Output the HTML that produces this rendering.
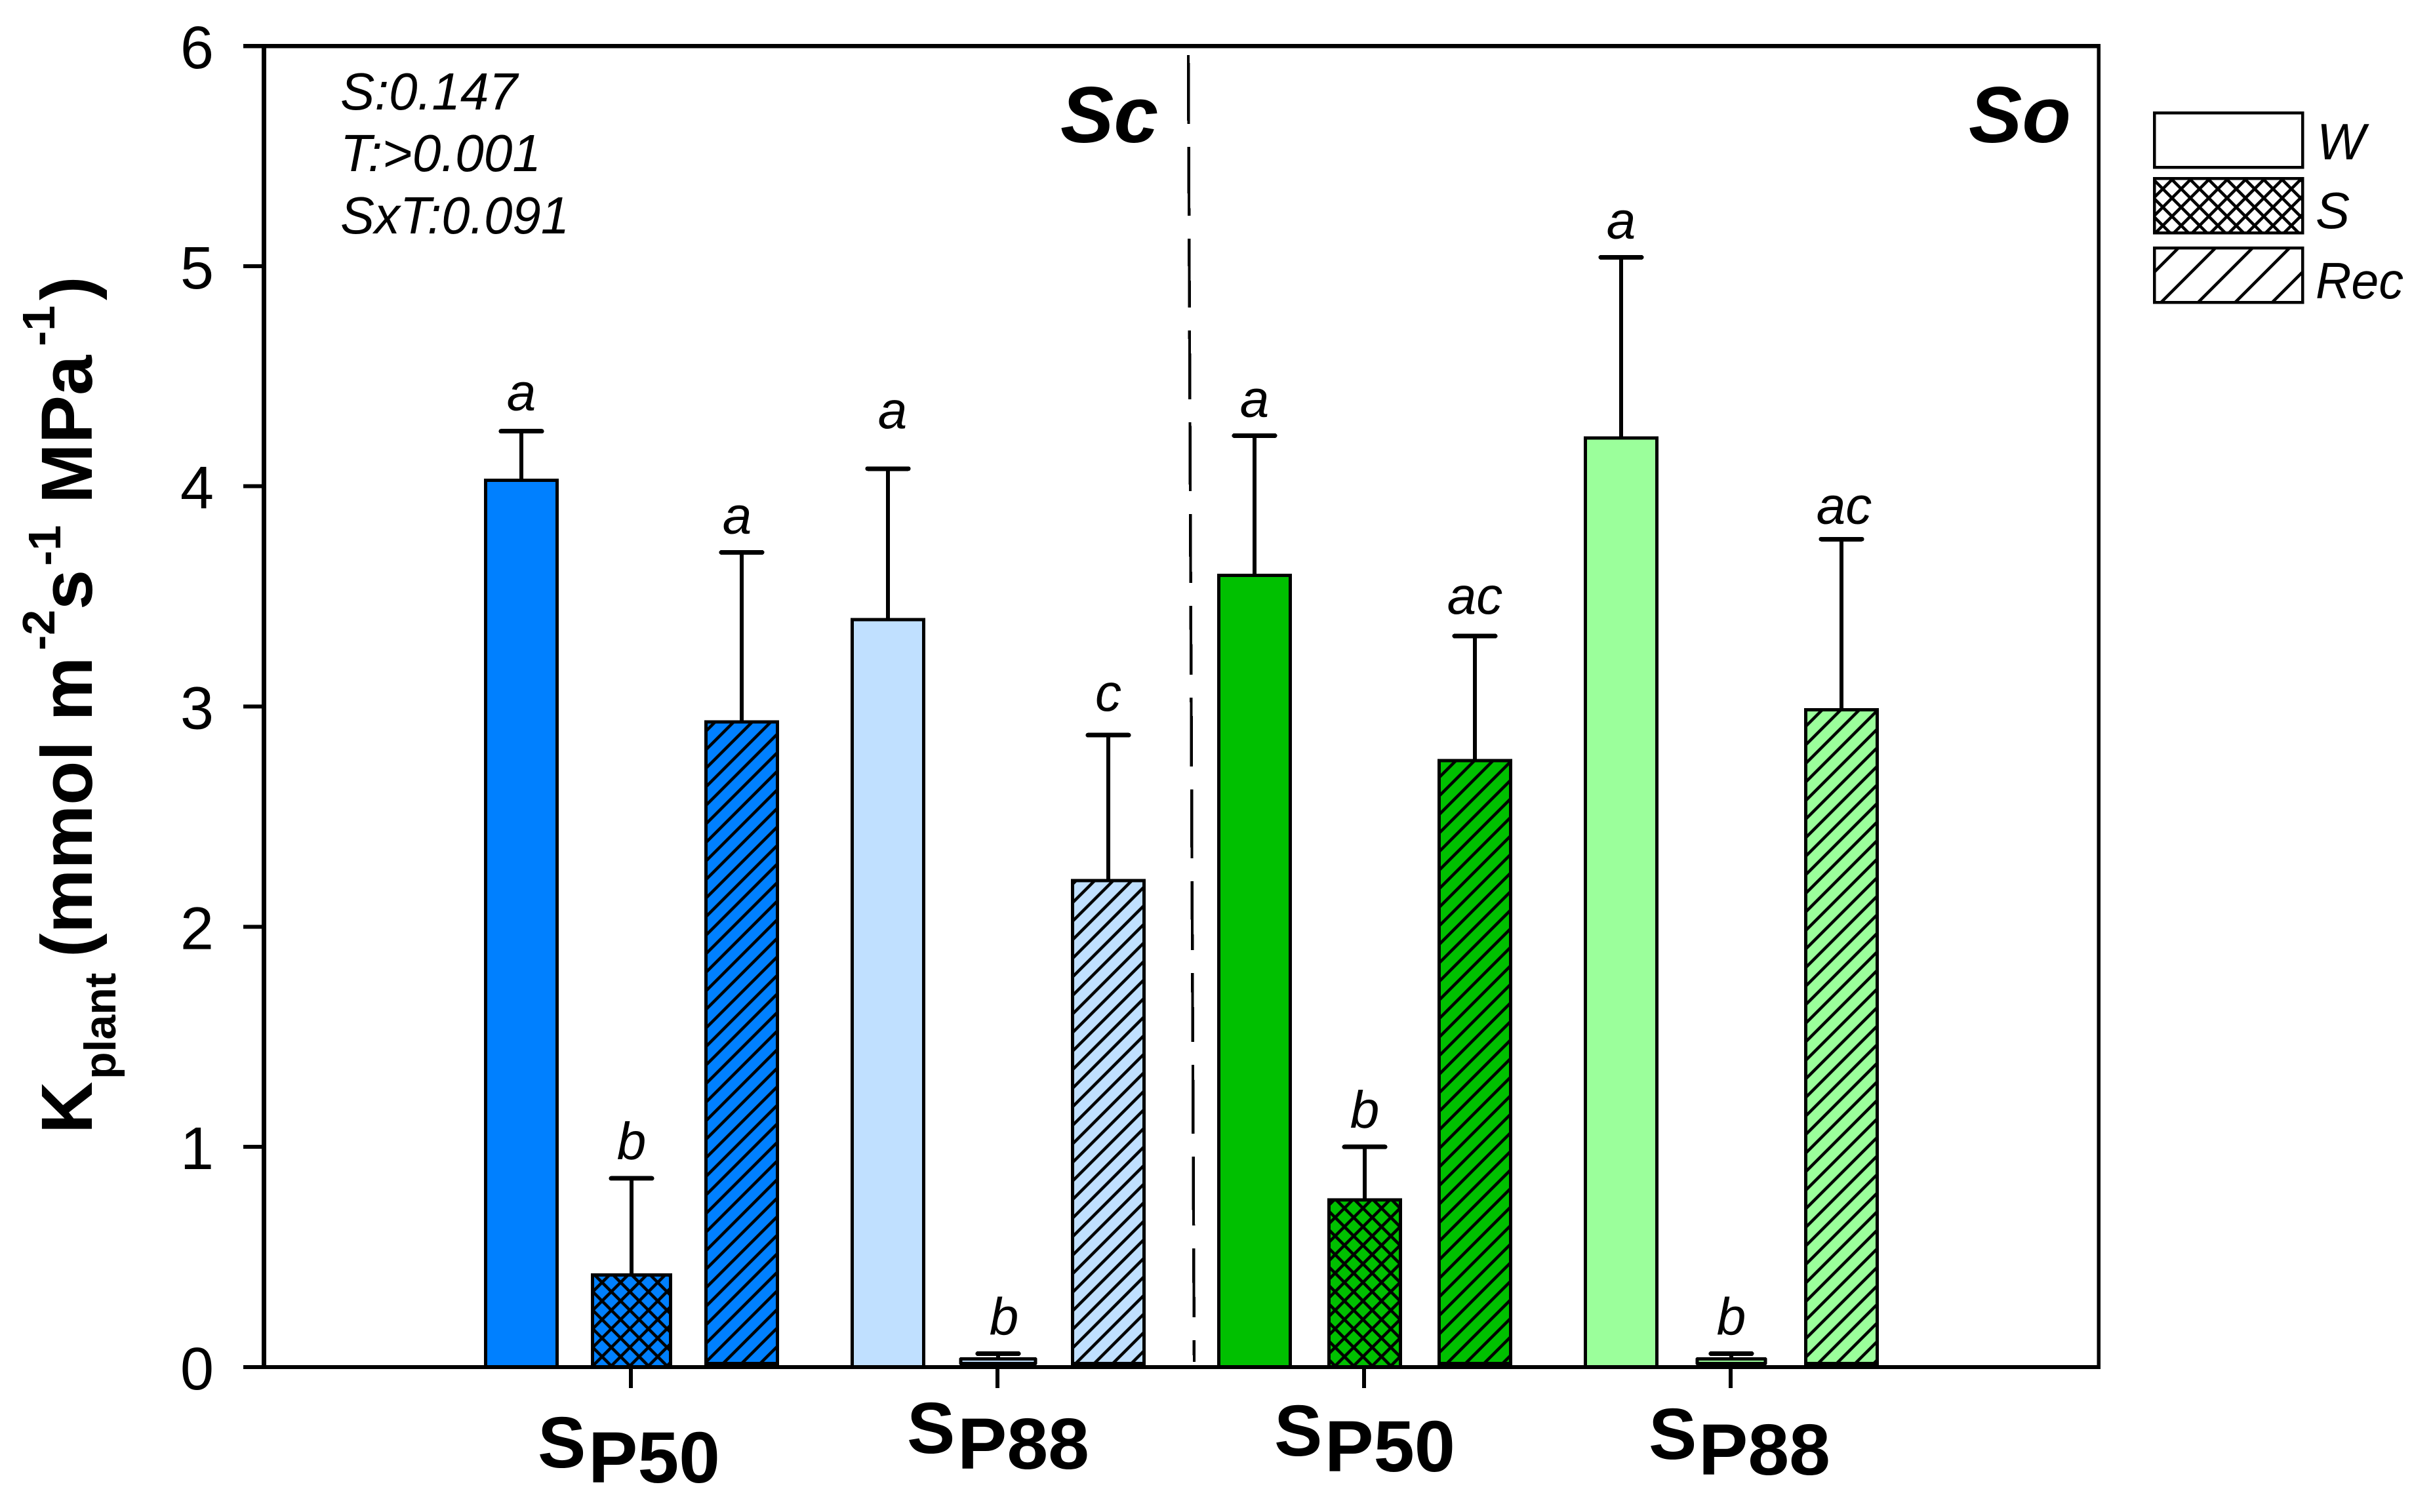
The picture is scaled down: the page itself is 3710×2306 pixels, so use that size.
<!DOCTYPE html>
<html lang="en">
<head>
<meta charset="utf-8">
<title>Kplant bar chart</title>
<style>
html,body{margin:0;padding:0;background:#fff;}
svg{display:block;}
text{font-family:"Liberation Sans",Arial,sans-serif;fill:#000;}
.it{font-style:italic;}
.bd{font-weight:bold;}
.bi{font-weight:bold;font-style:italic;}
</style>
</head>
<body>
<svg id="chart" xmlns="http://www.w3.org/2000/svg" width="3710" height="2306" viewBox="0 0 3710 2306">
  <defs>
    <pattern id="cross" patternUnits="userSpaceOnUse" width="28.3" height="28.3" x="932.2" y="1970">
      <path d="M-2 2L2 -2M0 28.3L28.3 0M26.3 30.3L30.3 26.3M-2 26.3L2 30.3M0 0L28.3 28.3M26.3 -2L30.3 2" stroke="#000" stroke-width="4.6" fill="none"/>
    </pattern>
    <pattern id="diag" patternUnits="userSpaceOnUse" width="28.3" height="28.3" x="12.5" y="0">
      <path d="M-2 2L2 -2M0 28.3L28.3 0M26.3 30.3L30.3 26.3" stroke="#000" stroke-width="4.6" fill="none"/>
    </pattern>
    <pattern id="legend-cross" patternUnits="userSpaceOnUse" width="28" height="28" x="3284" y="274">
      <path d="M-2 2L2 -2M0 28L28 0M26 30L30 26M-2 26L2 30M0 0L28 28M26 -2L30 2" stroke="#000" stroke-width="4.6" fill="none"/>
    </pattern>
    <pattern id="legend-diag" patternUnits="userSpaceOnUse" width="56.5" height="56.5" x="3300" y="400">
      <path d="M-2 2L2 -2M0 56.5L56.5 0M54.5 58.5L58.5 54.5" stroke="#000" stroke-width="4.6" fill="none"/>
    </pattern>
  </defs>

  <g id="marks" shape-rendering="crispEdges"></g>
  <g id="axes" shape-rendering="crispEdges"></g>

  <line x1="1812" y1="84" x2="1821" y2="2077" stroke="#000" stroke-width="4.4" stroke-dasharray="105 35" shape-rendering="crispEdges"/>

  <text class="it" x="519" y="167" font-size="80" textLength="270" lengthAdjust="spacingAndGlyphs">S:0.147</text>
  <text class="it" x="519" y="261" font-size="80" textLength="306" lengthAdjust="spacingAndGlyphs">T:&gt;0.001</text>
  <text class="it" x="519" y="356" font-size="80" textLength="349" lengthAdjust="spacingAndGlyphs">SxT:0.091</text>

  <text class="bi" x="1617" y="217" font-size="122">Sc</text>
  <text class="bi" x="3002" y="217" font-size="122">So</text>

  <g>
    <rect x="3285" y="172" width="226" height="83" fill="#fff" stroke="#000" stroke-width="4.5" shape-rendering="crispEdges"/>
    <rect x="3285" y="272" width="226" height="83" fill="url(#legend-cross)" stroke="#000" stroke-width="4.5" shape-rendering="crispEdges"/>
    <rect x="3285" y="378" width="226" height="83" fill="url(#legend-diag)" stroke="#000" stroke-width="4.5" shape-rendering="crispEdges"/>
    <text class="it" x="3533" y="243" font-size="78">W</text>
    <text class="it" x="3531" y="348" font-size="78">S</text>
    <text class="it" x="3531" y="455" font-size="78" textLength="134" lengthAdjust="spacingAndGlyphs">Rec</text>
  </g>

  <g>
    <text class="bd" x="820" y="2238" font-size="110">S</text>
    <text class="bd" x="897" y="2261" font-size="110" textLength="201" lengthAdjust="spacingAndGlyphs">P50</text>
    <text class="bd" x="1383" y="2216" font-size="110">S</text>
    <text class="bd" x="1460" y="2240" font-size="110" textLength="201" lengthAdjust="spacingAndGlyphs">P88</text>
    <text class="bd" x="1943" y="2220" font-size="110">S</text>
    <text class="bd" x="2020" y="2244" font-size="110" textLength="199" lengthAdjust="spacingAndGlyphs">P50</text>
    <text class="bd" x="2514" y="2225" font-size="110">S</text>
    <text class="bd" x="2590" y="2249" font-size="110" textLength="201" lengthAdjust="spacingAndGlyphs">P88</text>
  </g>

  <g>
    <text class="bd" font-size="110" transform="translate(140,1729) rotate(-90)">K</text>
    <text class="bd" font-size="68" transform="translate(176,1646) rotate(-90)">plant</text>
    <text class="bd" font-size="110" transform="translate(140,1460) rotate(-90)">(mmol m</text>
    <text class="bd" font-size="70" transform="translate(83,992) rotate(-90)">-2</text>
    <text class="bd" font-size="110" transform="translate(140,930) rotate(-90)">s</text>
    <text class="bd" font-size="70" transform="translate(92,863) rotate(-90)">-1</text>
    <text class="bd" font-size="110" transform="translate(140,768) rotate(-90)">MPa</text>
    <text class="bd" font-size="70" transform="translate(83,528) rotate(-90)">-1</text>
    <text class="bd" font-size="110" transform="translate(140,458) rotate(-90)">)</text>
  </g>

<script>
// ---- chart data ----
const yTicks = [0, 1, 2, 3, 4, 5, 6];
const groupNames = ['Sc-P50', 'Sc-P88', 'So-P50', 'So-P88'];
const treatments = ['W', 'S', 'Rec'];
const means = [
  [4.027, 0.418, 2.93],
  [3.395, 0.037, 2.21],
  [3.595, 0.759, 2.755],
  [4.22, 0.037, 2.985]
];
const errorTops = [
  [4.25, 0.857, 3.70],
  [4.08, 0.061, 2.87],
  [4.23, 1.00, 3.32],
  [5.04, 0.061, 3.76]
];
const letters = [
  ['a', 'b', 'a'],
  ['a', 'b', 'c'],
  ['a', 'b', 'ac'],
  ['a', 'b', 'ac']
];
const groupColors = ['#0080FF', '#C0E0FF', '#00C000', '#9BFF9B'];

// ---- axis functions ----
const plot = {left: 402.5, right: 3200, top: 70, bottom: 2085};
const yMax = 6;
function yScale(v) {
  return plot.bottom - (v / yMax) * (plot.bottom - plot.top);
}
function xScale(g, t) {
  return 795 + g * 559 + t * 168;
}
function barWidth(g, t) {
  if (t !== 1) return 109;
  return 119 - g * 5;
}
function letterLift(g, t) {
  if (g === 1 && t === 0) return 62;
  if (g === 1 && t === 2) return 37;
  if (g === 2 && t === 2) return 34;
  if (g === 3 && t === 2) return 24;
  if (g === 0 && t === 0) return 32;
  return 29;
}
function letterShift(g, t) {
  if (g === 0 && t === 2) return -7;
  if (g === 1 && t === 0) return 7;
  if (g === 1 && t === 1) return 9;
  if (g === 3 && t === 2) return 4;
  return 0;
}
const capHalf = 31;
const innerFloor = 2079.5;

const NS = 'http://www.w3.org/2000/svg';
const marks = document.getElementById('marks');
const axes = document.getElementById('axes');
function mk(tag, parent, attrs) {
  const el = document.createElementNS(NS, tag);
  for (const k in attrs) el.setAttribute(k, attrs[k]);
  parent.appendChild(el);
  return el;
}

groupNames.forEach(function (gName, g) {
  treatments.forEach(function (tName, t) {
    const cx = xScale(g, t);
    const top = yScale(means[g][t]);
    const errY = yScale(errorTops[g][t]);
    const slug = gName.toLowerCase() + '-' + tName.toLowerCase();
    const w = barWidth(g, t);
    const tiny = innerFloor - top < 12;
    const floor = (t === 2 || tiny) ? innerFloor : plot.bottom;

    const stem = mk('line', marks, {x1: cx, x2: cx, y1: top, y2: errY, stroke: '#000', 'stroke-width': 6.3});
    
    

    const cap = mk('line', marks, {x1: cx - capHalf, x2: cx + capHalf, y1: errY, y2: errY, stroke: '#000', 'stroke-width': 7, 'stroke-linecap': 'round'});
    
    

    const geom = {x: cx - w / 2, y: top, width: w, height: floor - top};
    const fill = mk('rect', marks, Object.assign({fill: groupColors[g]}, geom));
    
    

    if (t > 0 && !tiny) {
      const hatch = mk('rect', marks, Object.assign({fill: t === 1 ? 'url(#cross)' : 'url(#diag)'}, geom));
      
      
    }

    const outline = mk('rect', marks, Object.assign({fill: 'none', stroke: '#000', 'stroke-width': 5, 'stroke-linejoin': tiny ? 'round' : 'miter'}, geom));
    
    

    const label = mk('text', marks, {x: cx + letterShift(g, t), y: errY - letterLift(g, t), 'font-size': 80, 'text-anchor': 'middle', class: 'it'});
    label.textContent = letters[g][t];
    
    
  });
});

// frame
const frameTop = mk('line', axes, {x1: 371, x2: plot.right + 3, y1: plot.top, y2: plot.top, stroke: '#000', 'stroke-width': 6.5});



const frameRight = mk('line', axes, {x1: plot.right, x2: plot.right, y1: plot.top, y2: plot.bottom, stroke: '#000', 'stroke-width': 5.5});



const axisY = mk('line', axes, {x1: plot.left, x2: plot.left, y1: plot.top, y2: plot.bottom, stroke: '#000', 'stroke-width': 6.7});



const axisX = mk('line', axes, {x1: 371, x2: plot.right + 3, y1: plot.bottom, y2: plot.bottom, stroke: '#000', 'stroke-width': 6});



yTicks.forEach(function (v) {
  const y = yScale(v);
  const tick = mk('line', axes, {x1: 371, x2: plot.left, y1: y, y2: y, stroke: '#000', 'stroke-width': 6});
  
  

  const lab = mk('text', axes, {x: 326, y: y + 34, 'font-size': 92, 'text-anchor': 'end'});
  lab.textContent = String(v);
  
  
});

groupNames.forEach(function (gName, g) {
  const x = xScale(g, 1) - 1;
  const tick = mk('line', axes, {x1: x, x2: x, y1: plot.bottom, y2: 2117, stroke: '#000', 'stroke-width': 6.3});
  
  
});
</script>
</svg>
</body>
</html>
